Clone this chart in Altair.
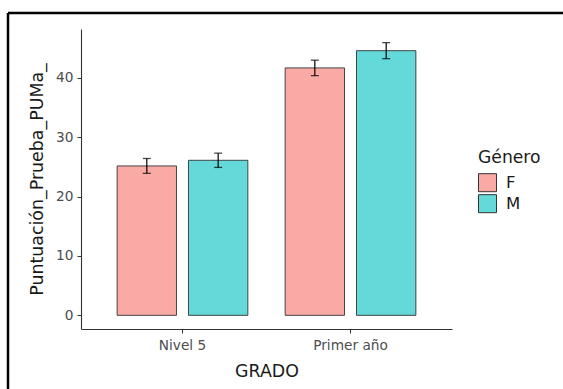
import altair as alt
import pandas as pd

# Mean score by grade and gender, with standard error
grado = ["Nivel 5", "Nivel 5", "Primer año", "Primer año"]
genero = ["F", "M", "F", "M"]
media = [25.15, 26.1, 41.65, 44.55]
error = [1.25, 1.2, 1.3, 1.35]

df = pd.DataFrame({"GRADO": grado, "Género": genero, "media": media, "error": error})
df["bajo"] = df["media"] - df["error"]
df["alto"] = df["media"] + df["error"]

FONT = "DejaVu Sans"
W, H = 371, 300
LEFT, TOP = 81, 29

x_enc = alt.X(
    "GRADO:N",
    title="GRADO",
    scale=alt.Scale(paddingInner=0.222, paddingOuter=0.215),
    axis=alt.Axis(labelAngle=0, labelPadding=5, titlePadding=11),
)
xo_enc = alt.XOffset("Género:N", scale=alt.Scale(paddingInner=0.168, paddingOuter=0))
y_scale = alt.Scale(domain=[-2.3, 48.2], nice=False, zero=False)

base = alt.Chart(df)

bars = base.mark_bar(stroke="#333333", strokeWidth=1, strokeOpacity=0.9).encode(
    x=x_enc,
    xOffset=xo_enc,
    y=alt.Y(
        "media:Q",
        title="Puntuación_Prueba_PUMa_",
        scale=y_scale,
        axis=alt.Axis(values=[0, 10, 20, 30, 40], labelPadding=4, titlePadding=9),
    ),
    y2=alt.datum(0),
    fill=alt.Fill(
        "Género:N",
        scale=alt.Scale(domain=["F", "M"], range=["#F9AAA5", "#64D9D9"]),
        legend=alt.Legend(
            title="Género",
            orient="none",
            legendX=397,
            legendY=120,
            symbolType="square",
            symbolSize=324,
            symbolStrokeColor="#333333",
            symbolStrokeWidth=1,
            symbolOpacity=1,
            rowPadding=-3,
            labelFontSize=16.5,
            titleFontSize=17.2,
            titleFontWeight="normal",
            titlePadding=7,
            labelOffset=9,
        ),
    ),
)

whiskers = base.mark_rule(color="black", strokeWidth=1.2).encode(
    x=x_enc, xOffset=xo_enc, y=alt.Y("bajo:Q", scale=y_scale), y2="alto:Q"
)
caps_hi = base.mark_tick(color="black", size=8, thickness=1.3, orient="horizontal").encode(
    x=x_enc, xOffset=xo_enc, y=alt.Y("alto:Q", scale=y_scale)
)
caps_lo = base.mark_tick(color="black", size=8, thickness=1.3, orient="horizontal").encode(
    x=x_enc, xOffset=xo_enc, y=alt.Y("bajo:Q", scale=y_scale)
)

# Frame lines along the top and left edges of the figure
frame_top = alt.Chart(pd.DataFrame({"k": [0]})).mark_rule(color="black", strokeWidth=2.5).encode(
    x=alt.value(8 - LEFT), x2=alt.value(563 - LEFT + 5), y=alt.value(13 - TOP)
)
frame_left = alt.Chart(pd.DataFrame({"k": [0]})).mark_rule(color="black", strokeWidth=2.5).encode(
    x=alt.value(8 - LEFT), y=alt.value(13 - TOP), y2=alt.value(389 - TOP + 5)
)

chart = (
    alt.layer(bars, whiskers, caps_hi, caps_lo, frame_top, frame_left)
    .properties(
        width=W,
        height=H,
        autosize=alt.AutoSizeParams(type="none"),
        padding={"left": LEFT, "top": TOP, "right": 563 - LEFT - W, "bottom": 389 - TOP - H},
    )
    .configure(font=FONT, background="white")
    .configure_view(stroke=None)
    .configure_axis(
        grid=False,
        domainColor="#333333",
        domainWidth=1.1,
        tickColor="#333333",
        tickSize=4,
        labelColor="#4D4D4D",
        labelFontSize=13.7,
        labelFont=FONT,
        titleFont=FONT,
        titleFontSize=17.4,
        titleFontWeight="normal",
        titleColor="#1A1A1A",
    )
    .configure_legend(labelFont=FONT, titleFont=FONT, labelColor="#1A1A1A", titleColor="#1A1A1A")
)

chart.save("out.html", embed_options={"renderer": "svg", "actions": False})
